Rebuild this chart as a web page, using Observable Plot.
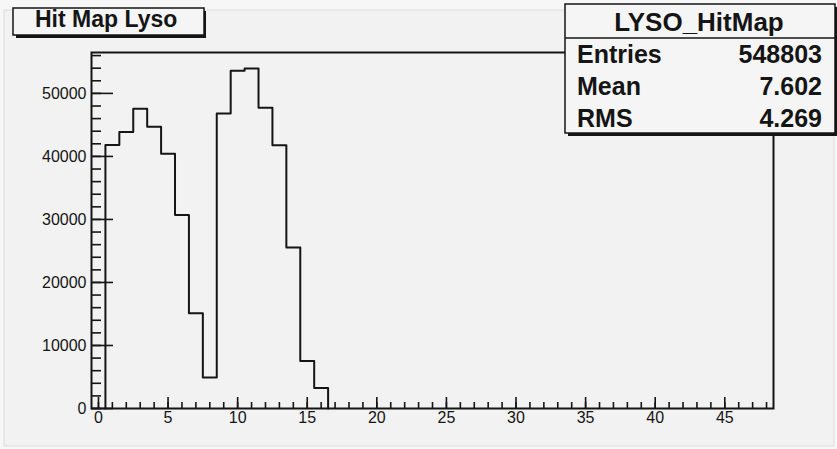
<!DOCTYPE html>
<html><head><meta charset="utf-8">
<script src="https://cdn.jsdelivr.net/npm/d3@7"></script>
<script src="https://cdn.jsdelivr.net/npm/@observablehq/plot@0.6"></script>
<style>
html,body{margin:0;padding:0;background:#f7f7f7;}
#chart{width:837px;height:449px;}
svg{display:block}
</style></head><body><div id="chart"></div>
<script>
// ---- data ----
const binCenters = [1, 2, 3, 4, 5, 6, 7, 8, 9, 10, 11, 12, 13, 14, 15, 16];
const binCounts = [41800, 43870, 47560, 44710, 40430, 30710, 15130, 4930, 46830, 53610, 53960, 47720, 41760, 25530, 7530, 3250];
const xTickLabels = [0, 5, 10, 15, 20, 25, 30, 35, 40, 45];
const xMinorTicks = [0,1,2,3,4,5,6,7,8,9,10,11,12,13,14,15,16,17,18,19,20,21,22,23,24,25,26,27,28,29,30,31,32,33,34,35,36,37,38,39,40,41,42,43,44,45,46,47,48];
const yTickLabels = [0, 10000, 20000, 30000, 40000, 50000];
const yMinorTicks = [0,2000,4000,6000,8000,10000,12000,14000,16000,18000,20000,22000,24000,26000,28000,30000,32000,34000,36000,38000,40000,42000,44000,46000,48000,50000,52000,54000,56000];
const xDomain = [-0.5, 48.5];
const yDomain = [0, 56490];
const histTitle = "Hit Map Lyso";
const statsName = "LYSO_HitMap";
const statsLabels = ["Entries", "Mean", "RMS"];
const statsValues = ["548803", "7.602", "4.269"];

// ---- build step outline from bins ----
const halfWidth = 0.5;
const steps = [{x: binCenters[0] - halfWidth, y: 0}]
  .concat(binCenters.map((c, i) => ({x: c - halfWidth, y: binCounts[i]})))
  .concat([{x: binCenters[binCenters.length - 1] + halfWidth, y: 0}]);

const W = 837, H = 449;
const mL = 91, mR = 64, mT = 52, mB = 41;
const plotW = W - mL - mR, plotH = H - mT - mB;
const ink = "#151515";
// tick lengths in pixels, converted to data units
const xPerPx = (xDomain[1] - xDomain[0]) / plotW;
const yPerPx = (yDomain[1] - yDomain[0]) / plotH;
const yMajorLen = 22, yMinorLen = 10, xMajorLen = 11, xMinorLen = 6;

const plot = Plot.plot({
  width: W, height: H,
  marginLeft: mL, marginRight: mR, marginTop: mT, marginBottom: mB,
  style: {fontFamily: "Liberation Sans, Arial, sans-serif", fontSize: "16px", background: "transparent", color: ink},
  x: {domain: xDomain, axis: null},
  y: {domain: yDomain, axis: null},
  marks: [
    Plot.ruleY(yMinorTicks, {y: d => d, x1: xDomain[0], x2: xDomain[0] + yMinorLen * xPerPx, stroke: ink, strokeWidth: 1.6}),
    Plot.ruleY(yTickLabels, {y: d => d, x1: xDomain[0], x2: xDomain[0] + yMajorLen * xPerPx, stroke: ink, strokeWidth: 1.6}),
    Plot.ruleX(xMinorTicks, {x: d => d, y1: yDomain[0], y2: yDomain[0] + xMinorLen * yPerPx, stroke: ink, strokeWidth: 1.6}),
    Plot.ruleX(xTickLabels, {x: d => d, y1: yDomain[0], y2: yDomain[0] + xMajorLen * yPerPx, stroke: ink, strokeWidth: 1.6}),
    Plot.axisY(yTickLabels, {tickSize: 0, tickPadding: 5, fontSize: 16, tickFormat: d => String(d), label: null, fill: ink}),
    Plot.axisX(xTickLabels, {tickSize: 0, tickPadding: 3, fontSize: 16, tickFormat: d => String(d), label: null, fill: ink}),
    Plot.line(steps, {x: "x", y: "y", curve: "step-after", stroke: ink, strokeWidth: 2}),
    Plot.frame({stroke: ink, strokeWidth: 2})
  ]
});

const svg = d3.select(plot);
// pad bevel
svg.insert("rect", ":first-child")
  .attr("x", 4).attr("y", 10).attr("width", 830).attr("height", 436)
  .attr("fill", "#f2f2f2").attr("stroke", "#dedede").attr("stroke-width", 1);

const ff = "Liberation Sans, Arial, sans-serif";
// title box
svg.append("rect").attr("x", 16).attr("y", 11).attr("width", 190).attr("height", 27).attr("fill", ink);
svg.append("rect").attr("x", 13).attr("y", 8).attr("width", 191).attr("height", 27)
  .attr("fill", "#f5f5f5").attr("stroke", ink).attr("stroke-width", 1.5);
svg.append("text").attr("x", 35).attr("y", 27).attr("text-anchor", "start")
  .attr("font-family", ff).attr("font-weight", "bold")
  .attr("font-size", 23).attr("fill", ink).text(histTitle);

// stats box
svg.append("rect").attr("x", 568).attr("y", 7).attr("width", 270).attr("height", 129).attr("fill", ink);
svg.append("rect").attr("x", 565).attr("y", 4).attr("width", 270).attr("height", 129)
  .attr("fill", "#f5f5f5").attr("stroke", ink).attr("stroke-width", 1.5);
svg.append("line").attr("x1", 565).attr("x2", 835).attr("y1", 38).attr("y2", 38)
  .attr("stroke", ink).attr("stroke-width", 1.5);
svg.append("text").attr("x", 699).attr("y", 31).attr("text-anchor", "middle")
  .attr("font-family", ff).attr("font-weight", "bold")
  .attr("font-size", 26).attr("fill", ink).text(statsName);
const rowY = [62.5, 95, 127];
statsLabels.forEach((lab, i) => {
  svg.append("text").attr("x", 577).attr("y", rowY[i]).attr("text-anchor", "start")
    .attr("font-family", ff).attr("font-weight", "bold")
    .attr("font-size", 25).attr("fill", ink).text(lab);
  svg.append("text").attr("x", 822).attr("y", rowY[i]).attr("text-anchor", "end")
    .attr("font-family", ff).attr("font-weight", "bold")
    .attr("font-size", 25).attr("fill", ink).text(statsValues[i]);
});

document.getElementById("chart").appendChild(plot);
</script></body></html>
